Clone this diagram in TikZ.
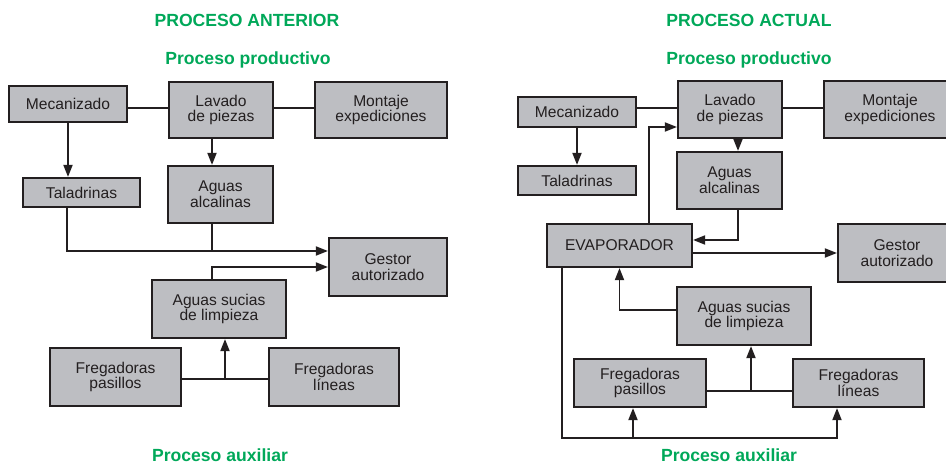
\documentclass[tikz,border=0pt]{standalone}
\usepackage{fontspec}
\setmainfont{Liberation Sans}
\usetikzlibrary{arrows.meta}
\definecolor{verde}{RGB}{0,168,89}
\definecolor{gris}{RGB}{189,190,194}
\definecolor{tinta}{RGB}{35,31,32}

\begin{document}
\begin{tikzpicture}[x=1pt,y=-1pt,
  caja/.style={draw=tinta,fill=gris,line width=2.2pt,inner sep=0pt,align=center,
    text=tinta,font=\fontsize{15.6}{15.7}\selectfont},
  titulo/.style={text=verde,font=\bfseries\fontsize{17.6}{20}\selectfont},
  linea/.style={draw=tinta,line width=1.8pt},
  flecha/.style={linea,-{Triangle[length=12pt,width=9pt]}}]
  \useasboundingbox (0,0) rectangle (946,465);
  % proceso anterior
  \begin{scope}
    \node[titulo] (ant) at (247,20) {PROCESO ANTERIOR};
    \node[titulo] (prod1) at (248,60) {Proceso productivo};
    \node[titulo] (aux1) at (220,455) {Proceso auxiliar};
    \node[caja,minimum width=118pt,minimum height=36pt] (mec1) at (68,104) {Mecanizado};
    \node[caja,minimum width=104pt,minimum height=56pt] (lav1) at (221,110) {Lavado\\de piezas};
    \node[caja,minimum width=132pt,minimum height=56pt] (mon1) at (381,110) {Montaje\\expediciones};
    \node[caja,minimum width=117pt,minimum height=29pt] (tal1) at (81.5,192.5) {Taladrinas};
    \node[caja,minimum width=105pt,minimum height=57pt] (alc1) at (220.5,194.5) {Aguas\\alcalinas};
    \node[caja,minimum width=118pt,minimum height=58pt] (ges1) at (388,267) {Gestor\\autorizado};
    \node[caja,minimum width=134pt,minimum height=58pt] (suc1) at (219,309) {Aguas sucias\\de limpieza};
    \node[caja,minimum width=131pt,minimum height=58pt] (fpa1) at (115.5,377) {Fregadoras\\pasillos};
    \node[caja,minimum width=130pt,minimum height=58pt] (fli1) at (334,377) {Fregadoras\\líneas};
    \coordinate (m1) at ([yshift=-4pt]mec1.east);
    \coordinate (l1) at ([xshift=-9pt]lav1.south);
    \coordinate (g1) at ([yshift=16pt]ges1.west);
    \coordinate (a1) at ([xshift=-8.5pt]alc1.south);
    \coordinate (f1) at ([yshift=-2pt]fpa1.east);
    \coordinate (s1) at ([xshift=6pt]suc1.south);
    \draw[linea] (m1) -- (m1 -| lav1.west);
    \draw[linea] (lav1.east |- m1) -- (m1 -| mon1.west);
    \draw[flecha] (mec1.south) -- (mec1.south |- tal1.north);
    \draw[flecha] (l1) -- (l1 |- alc1.north);
    \draw[flecha] ([xshift=-14.5pt]tal1.south) |- (g1);
    \draw[linea] (a1) -- (a1 |- g1);
    \draw[flecha] ([xshift=-7pt]suc1.north) |- (ges1.west);
    \draw[linea] (f1) -- (f1 -| fli1.west);
    \draw[flecha] (s1 |- f1) -- (s1);
  \end{scope}
  % proceso actual
  \begin{scope}
    \node[titulo] (act) at (749,20) {PROCESO ACTUAL};
    \node[titulo] (prod2) at (749,60) {Proceso productivo};
    \node[titulo] (aux2) at (729,455) {Proceso auxiliar};
    \node[caja,minimum width=118pt,minimum height=30pt] (mec2) at (577,112) {Mecanizado};
    \node[caja,minimum width=104pt,minimum height=57pt] (lav2) at (730,109.5) {Lavado\\de piezas};
    \node[caja,minimum width=132pt,minimum height=57pt] (mon2) at (890,109.5) {Montaje\\expediciones};
    \node[caja,minimum width=118pt,minimum height=29pt] (tal2) at (577,180.5) {Taladrinas};
    \node[caja,minimum width=105pt,minimum height=57pt] (alc2) at (729.5,180.5) {Aguas\\alcalinas};
    \node[caja,minimum width=145pt,minimum height=43pt] (eva) at (619.5,245.5) {EVAPORADOR};
    \node[caja,minimum width=118pt,minimum height=58pt] (ges2) at (897,253) {Gestor\\autorizado};
    \node[caja,minimum width=134pt,minimum height=58pt] (suc2) at (744,316) {Aguas sucias\\de limpieza};
    \node[caja,minimum width=132pt,minimum height=48pt] (fpa2) at (640,383) {Fregadoras\\pasillos};
    \node[caja,minimum width=131pt,minimum height=48pt] (fli2) at (858.5,383) {Fregadoras\\líneas};
    \coordinate (m2) at ([yshift=4pt]mec2.east);
    \coordinate (l2) at ([xshift=8pt]lav2.south);
    \coordinate (e1) at ([yshift=5.5pt]eva.east);
    \coordinate (f2) at ([yshift=-8pt]fpa2.east);
    \coordinate (s2) at ([xshift=7pt]suc2.south);
    \coordinate (b0) at ([yshift=-30pt]fpa2.south);
    \coordinate (b2) at ([xshift=-7pt]fpa2.south);
    \coordinate (b3) at ([xshift=-21.5pt]fli2.south);
    \draw[linea] (m2) -- (m2 -| lav2.west);
    \draw[linea] (lav2.east |- m2) -- (m2 -| mon2.west);
    \draw[flecha] (mec2.south) -- (mec2.south |- tal2.north);
    \draw[flecha] (l2) -- (l2 |- alc2.north);
    \draw[flecha] (l2 |- alc2.south) |- (e1);
    \draw[flecha] ([xshift=29.5pt]eva.north) |- ([yshift=-17.5pt]lav2.west);
    \draw[flecha] (eva.east |- ges2.west) -- (ges2.west);
    \draw[flecha] ([yshift=6pt]suc2.west) -| (eva.south);
    \draw[linea] (f2) -- (f2 -| fli2.west);
    \draw[flecha] (s2 |- f2) -- (s2);
    \draw[flecha] ([xshift=-57.5pt]eva.south) |- (b0 -| b3) -- (b3);
    \draw[flecha] (b0 -| b2) -- (b2);
  \end{scope}
\end{tikzpicture}
\end{document}
